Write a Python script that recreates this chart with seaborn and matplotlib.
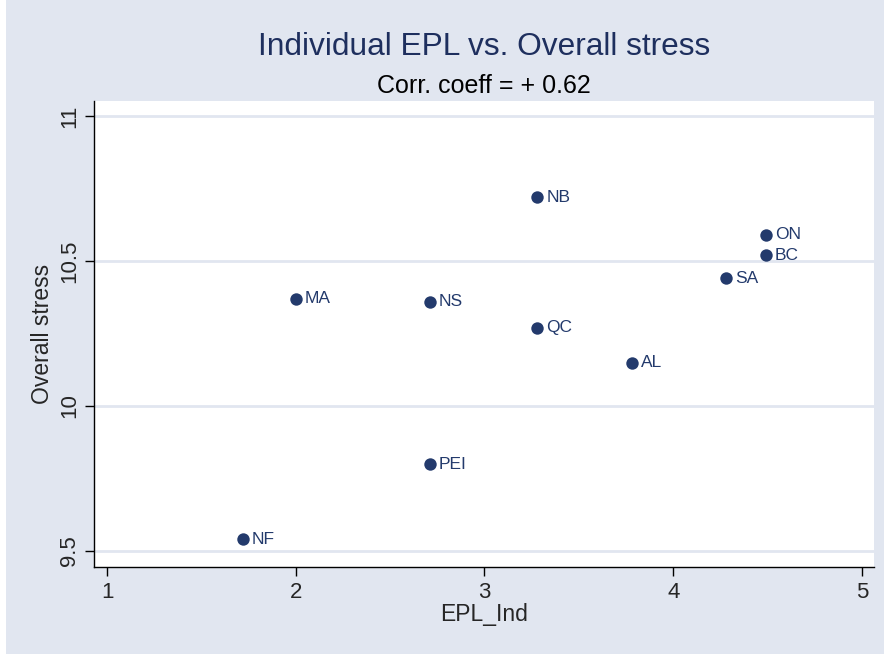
import pandas as pd
import matplotlib.pyplot as plt
import seaborn as sns

# Province data
provinces = ["NF", "MA", "NS", "PEI", "NB", "QC", "AL", "SA", "ON", "BC"]
epl_ind = [1.72, 2.00, 2.71, 2.71, 3.28, 3.28, 3.78, 4.28, 4.49, 4.49]
overall_stress = [9.54, 10.37, 10.36, 9.80, 10.72, 10.27, 10.15, 10.44, 10.59, 10.52]

x_ticks = [1, 2, 3, 4, 5]
y_ticks = [9.5, 10, 10.5, 11]
y_tick_labels = ["9.5", "10", "10.5", "11"]

df = pd.DataFrame({"EPL_Ind": epl_ind, "Overall stress": overall_stress, "prov": provinces})

bg = "#E1E6F0"
navy = "#233A6C"

sns.set_style("white")
plt.rcParams["font.family"] = ["Liberation Sans", "DejaVu Sans"]

fig = plt.figure(figsize=(8.84, 6.54), dpi=100, facecolor=bg)
# thin white strip on the left edge of the graph area
fig.patches.append(plt.Rectangle((0, 0), 6 / 884, 1, transform=fig.transFigure,
                                 facecolor="white", edgecolor="none", zorder=0))

ax = fig.add_axes([94 / 884, 1 - 567 / 654, 780 / 884, 466 / 654])
ax.set_facecolor("white")

for y in y_ticks:
    ax.axhline(y, color=bg, linewidth=2, zorder=1)

sns.scatterplot(data=df, x="EPL_Ind", y="Overall stress", ax=ax, color=navy,
                s=80, edgecolor=navy, linewidth=0, zorder=3)

# point labels to the right of each marker
for _, row in df.iterrows():
    ax.annotate(row["prov"], (row["EPL_Ind"], row["Overall stress"]),
                xytext=(6.5, 0), textcoords="offset points", va="center",
                ha="left", fontsize=12.5, color=navy)

ax.set_xlim(0.931, 5.064)
ax.set_ylim(9.445, 11.052)
ax.set_xticks(x_ticks)
ax.set_yticks(y_ticks)
ax.set_xticklabels([str(t) for t in x_ticks])
ax.set_yticklabels(y_tick_labels, rotation=90, va="center")
ax.tick_params(axis="both", bottom=True, left=True, labelsize=16, length=6.5,
               width=1, color="black", direction="out", pad=3.5)
ax.tick_params(axis="x", pad=4.5)

for side in ["top", "right"]:
    ax.spines[side].set_visible(False)
for side in ["left", "bottom"]:
    ax.spines[side].set_color("black")
    ax.spines[side].set_linewidth(1)

ax.set_xlabel("EPL_Ind", fontsize=16.5, labelpad=0)
ax.set_ylabel("Overall stress", fontsize=16.5, labelpad=4)

# titles are centred over the plot region
title_x = 484 / 884
fig.text(title_x, 1 - 47 / 654, "Individual EPL vs. Overall stress", ha="center",
         va="center", fontsize=22.8, color="#1E2F5E")
fig.text(title_x, 1 - 86 / 654, "Corr. coeff = + 0.62", ha="center", va="center",
         fontsize=18, color="black")

fig.savefig("out.png", dpi=100, facecolor=bg)
